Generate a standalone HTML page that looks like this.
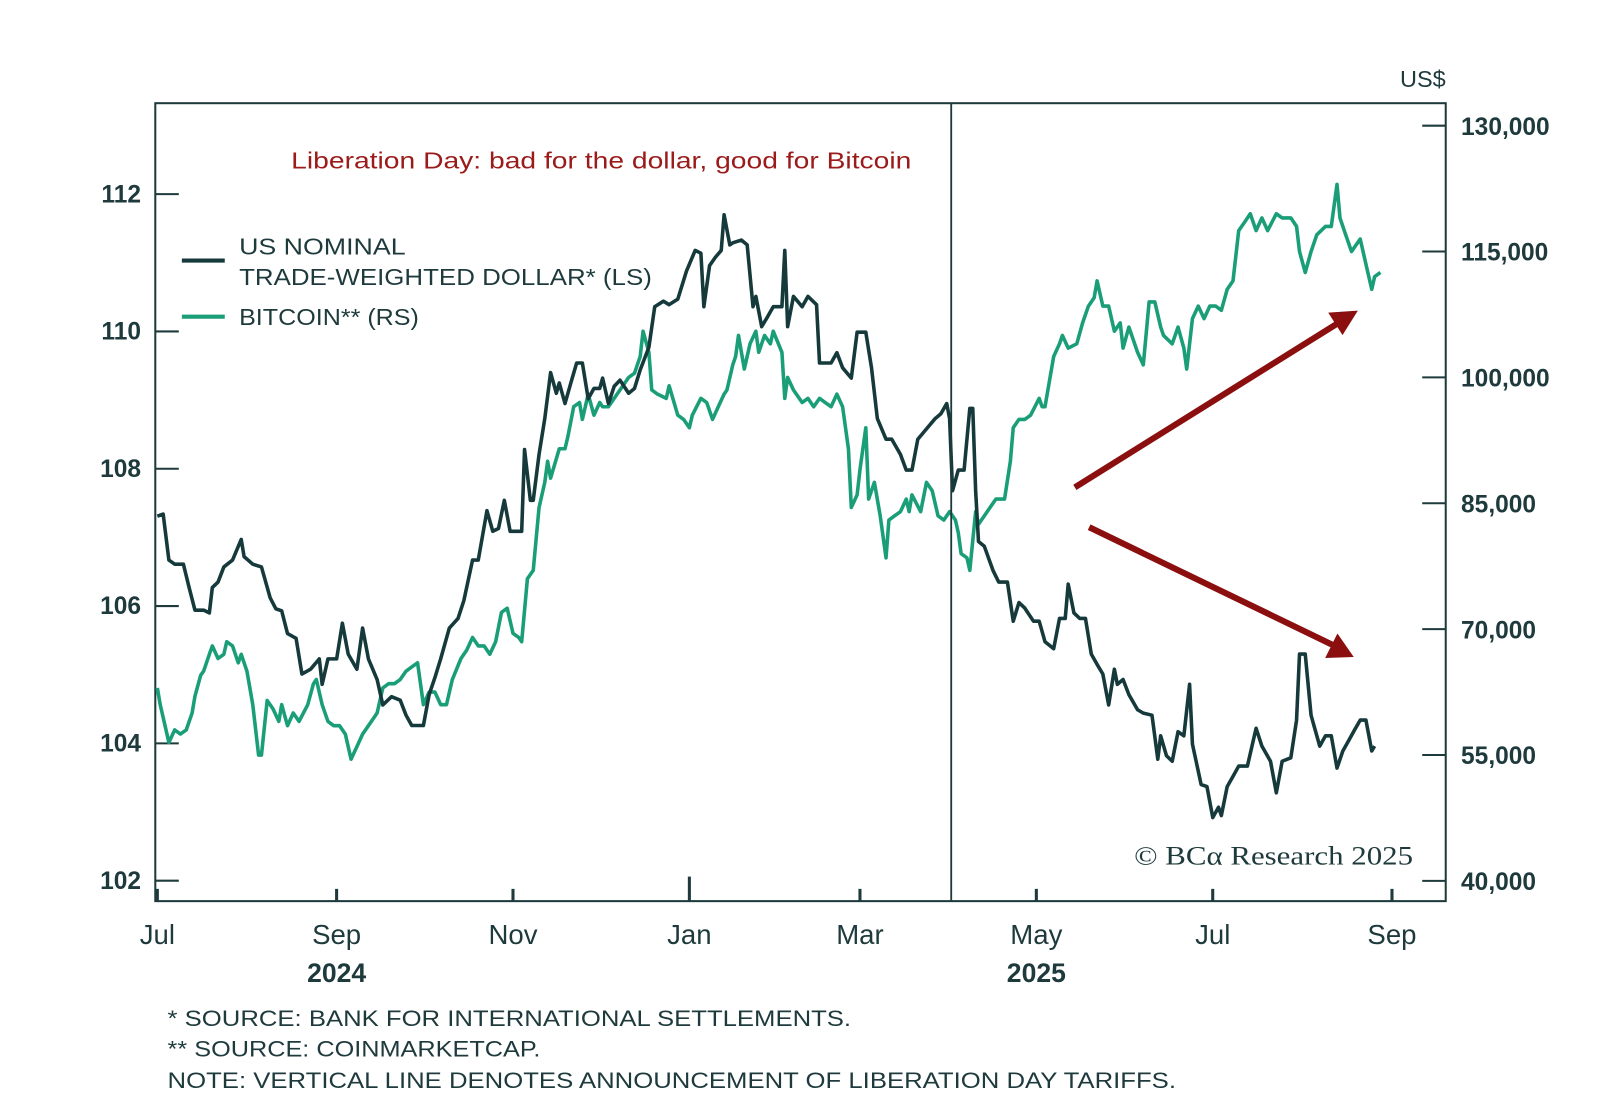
<!DOCTYPE html>
<html><head><meta charset="utf-8"><style>
html,body{margin:0;padding:0;background:#fff}
svg{display:block}
text{font-family:"Liberation Sans",sans-serif}
</style></head><body>
<svg id="chart" width="1600" height="1107" viewBox="0 0 1566 1083.5" preserveAspectRatio="none" xmlns="http://www.w3.org/2000/svg">
<rect x="0" y="0" width="1566" height="1084" fill="#fff"/>
<text x="285" y="165" font-size="23" fill="#9b1b1b" textLength="607" lengthAdjust="spacingAndGlyphs">Liberation Day: bad for the dollar, good for Bitcoin</text>
<text x="1415" y="85" text-anchor="end" font-size="23" fill="#1e3a3c">US$</text>
<g id="axes"></g>
<g id="series"></g>
<line x1="931" y1="101" x2="931" y2="882" stroke="#1e3a3c" stroke-width="1.8"/>
<g>
<line x1="178" y1="255" x2="220" y2="255" stroke="#163a3c" stroke-width="4"/>
<text x="234" y="249" font-size="23" fill="#1e3a3c" textLength="163" lengthAdjust="spacingAndGlyphs">US NOMINAL</text>
<text x="234" y="279" font-size="23" fill="#1e3a3c" textLength="404" lengthAdjust="spacingAndGlyphs">TRADE-WEIGHTED DOLLAR* (LS)</text>
<line x1="178" y1="310" x2="220" y2="310" stroke="#1a9e78" stroke-width="4"/>
<text x="234" y="318" font-size="23" fill="#1e3a3c" textLength="176" lengthAdjust="spacingAndGlyphs">BITCOIN** (RS)</text>
</g>
<g stroke="#8b0f0f" fill="#8b0f0f">
<line x1="1052" y1="477" x2="1310" y2="316" stroke-width="6"/>
<polygon points="1329,304 1300,306 1314,328" stroke="none"/>
<line x1="1066" y1="516" x2="1306" y2="632" stroke-width="6"/>
<polygon points="1325,643 1309,620 1297,644" stroke="none"/>
</g>
<text x="1110" y="846" font-size="26" fill="#1e3a3c" style="font-family:'Liberation Serif',serif" textLength="273" lengthAdjust="spacingAndGlyphs">© BCα Research 2025</text>
<g font-size="22" fill="#1e3a3c">
<text x="164" y="1004" textLength="669" lengthAdjust="spacingAndGlyphs">* SOURCE: BANK FOR INTERNATIONAL SETTLEMENTS.</text>
<text x="164" y="1034" textLength="365" lengthAdjust="spacingAndGlyphs">** SOURCE: COINMARKETCAP.</text>
<text x="164" y="1065" textLength="987" lengthAdjust="spacingAndGlyphs">NOTE: VERTICAL LINE DENOTES ANNOUNCEMENT OF LIBERATION DAY TARIFFS.</text>
</g>
</svg>
<script>
const leftTicks=[102,104,106,108,110,112];
const rightTicks=[40000,55000,70000,85000,100000,115000,130000];
const rightTickLabels=["40,000","55,000","70,000","85,000","100,000","115,000","130,000"];
const monthDays=[0,62,123,184,243,304,365,427];
const monthLabels=["Jul","Sep","Nov","Jan","Mar","May","Jul","Sep"];
const yearLabels=["2024","2025"];
const yearDays=[62,304];
const dollarDays=[0,2,4,6,9,11,13,16,18,19,21,23,26,29,30,33,36,39,41,43,45,48,50,53,56,57,59,62,64,66,69,71,73,76,78,81,84,86,88,92,94,96,98,101,104,106,109,111,114,116,118,120,122,126,127,129,130,132,134,136,138,139,141,143,145,147,149,151,153,154,156,158,160,163,165,167,170,172,175,177,180,183,186,188,189,191,193,195,196,198,199,202,204,206,207,209,211,213,216,217,218,220,223,225,228,229,233,235,237,240,242,245,247,249,252,254,257,259,261,263,266,269,271,273,274,275,277,279,281,282,283,284,286,289,291,294,296,298,300,303,305,307,310,312,314,315,317,319,321,323,325,327,329,331,332,334,336,339,341,344,346,347,349,351,353,355,357,358,361,363,365,367,368,370,372,374,377,380,382,385,387,389,392,394,395,397,399,400,402,404,406,408,410,412,414,416,418,420,421];
const dollarVals=[107.31,107.34,106.67,106.61,106.61,106.27,105.94,105.94,105.90,106.27,106.35,106.57,106.67,106.97,106.72,106.61,106.57,106.12,105.96,105.93,105.60,105.53,105.01,105.08,105.23,104.86,105.23,105.23,105.75,105.30,105.08,105.68,105.23,104.93,104.56,104.68,104.63,104.41,104.26,104.26,104.71,104.96,105.23,105.68,105.82,106.08,106.67,106.67,107.39,107.09,107.13,107.54,107.09,107.09,108.28,107.54,107.54,108.21,108.73,109.40,109.10,109.25,108.95,109.25,109.54,109.54,109.02,109.17,109.17,109.32,108.95,109.20,109.29,109.10,109.17,109.44,109.77,110.36,110.44,110.39,110.47,110.88,111.18,111.14,110.36,110.96,111.08,111.18,111.70,111.26,111.29,111.33,111.26,110.36,110.51,110.07,110.21,110.36,110.36,111.18,110.07,110.51,110.36,110.51,110.39,109.54,109.54,109.69,109.47,109.32,109.99,109.99,109.47,108.73,108.43,108.43,108.21,107.98,107.98,108.43,108.58,108.73,108.80,108.95,108.73,107.68,107.98,107.98,108.88,108.88,107.68,106.94,106.87,106.52,106.35,106.35,105.78,106.05,105.97,105.78,105.78,105.48,105.38,105.82,105.82,106.32,105.90,105.82,105.82,105.30,105.15,105.01,104.56,105.08,104.86,104.93,104.71,104.49,104.44,104.41,103.77,104.11,103.82,103.74,104.17,104.11,104.86,103.99,103.40,103.37,102.92,103.07,102.95,103.37,103.52,103.67,103.67,104.22,103.96,103.74,103.28,103.74,103.79,104.34,105.30,105.30,104.41,104.26,103.96,104.11,104.11,103.64,103.89,104.04,104.19,104.34,104.34,103.89,103.96];
const btcDays=[0,1,4,6,8,10,12,13,15,16,18,19,21,23,24,26,28,29,31,33,35,36,38,40,42,43,45,47,49,52,54,55,57,59,61,63,65,67,69,71,73,76,78,80,82,84,86,88,90,92,94,96,98,100,102,105,107,109,111,113,115,117,119,121,123,125,126,128,130,132,134,135,136,139,141,142,144,146,147,149,151,153,154,156,158,160,163,165,167,168,170,171,173,176,177,180,182,184,185,188,190,192,194,196,197,199,200,201,203,205,207,208,210,212,213,216,217,218,220,223,225,227,229,231,233,235,237,239,240,242,243,245,246,248,250,252,253,255,257,259,260,261,264,266,268,270,272,274,276,277,278,280,281,283,284,286,288,290,293,295,296,298,300,302,305,306,307,310,312,313,315,318,320,322,324,325,327,329,331,333,334,336,339,341,343,345,347,348,351,353,355,356,358,360,362,364,366,368,370,372,374,376,378,380,382,384,387,389,392,394,395,397,399,401,404,406,408,409,411,413,416,418,420,421,423];
const btcVals=[63000,61000,56500,58000,57500,58000,60000,62000,64500,65000,67000,68000,66500,67000,68500,68000,66000,67000,65000,61000,55000,55000,61500,60500,59000,61000,58500,60000,59000,61000,63500,64000,61000,59000,58500,58500,57500,54500,56000,57500,58500,60000,63000,63500,63500,64000,65000,65500,66000,61000,62500,62500,61000,61000,64000,66500,67500,69000,68000,68000,67000,68500,72000,72500,69500,69000,68500,76000,77000,84500,87500,90000,88000,91500,91500,93000,96500,97000,95000,98000,95500,97000,96500,96500,97500,98500,100000,100500,102500,105500,103000,98500,98000,97500,99000,95500,95000,94000,95500,97500,97000,95000,96500,98000,98500,101500,102500,105000,101000,104000,105500,103000,105000,104000,105500,103000,97500,100000,98500,97000,97500,96500,97500,97000,96500,98000,96500,91500,84500,86000,89000,94000,85500,87500,83500,78500,83000,83500,84000,85500,84000,86000,84000,87500,86500,83500,83000,84000,83000,81500,79000,78500,77000,84000,82500,83500,84500,85500,85500,90000,94000,95000,95000,95500,97500,96500,96500,102500,104000,105000,103500,104000,106500,108500,109500,111500,108500,108500,105500,106500,103500,106000,103000,101500,109000,109000,106000,105000,104000,106000,103500,101000,107000,108500,107000,108500,108500,108000,110500,111500,117500,118500,119500,117500,119000,117500,119500,119000,119000,118000,115000,112500,115000,117000,118000,118000,123000,119000,117000,115000,116500,113500,110500,112000,112500];

const NS="http://www.w3.org/2000/svg";
const L=152,T=101,R=1415,B=882;
function xDay(d){return 154+2.83*d;}
function yLeft(v){return 190+(112-v)*67.2;}
function yRight(v){return 123+(130000-v)/15000*123.2;}
function mk(tag,attrs,parent){const e=document.createElementNS(NS,tag);for(const k in attrs)e.setAttribute(k,attrs[k]);parent.appendChild(e);return e;}
const axes=document.getElementById('axes');
const series=document.getElementById('series');
const frame=mk('rect',{x:L,y:T,width:R-L,height:B-T,fill:'none',stroke:'#1e3a3c','stroke-width':2},axes);


leftTicks.forEach(v=>{
  const y=yLeft(v);
  const t=mk('line',{x1:L,x2:L+23,y1:y,y2:y,stroke:'#1e3a3c','stroke-width':2},axes);
  
  
  const tx=mk('text',{x:138,y:y+8,'text-anchor':'end','font-size':24,'font-weight':'bold',fill:'#1e3a3c'},axes);
  tx.textContent=String(v);
  
  
});
rightTicks.forEach((v,i)=>{
  const y=yRight(v);
  const t=mk('line',{x1:R-23,x2:R,y1:y,y2:y,stroke:'#1e3a3c','stroke-width':2},axes);
  
  
  const tx=mk('text',{x:1430,y:y+9,'text-anchor':'start','font-size':24,'font-weight':'bold',fill:'#1e3a3c'},axes);
  tx.textContent=rightTickLabels[i];
  
  
});
monthDays.forEach((d,i)=>{
  const x=xDay(d);
  const t=mk('line',{x1:x,x2:x,y1:i===3?858:870,y2:B,stroke:'#1e3a3c','stroke-width':3},axes);
  
  
  const tx=mk('text',{x:x,y:924,'text-anchor':'middle','font-size':27,fill:'#1e3a3c'},axes);
  tx.textContent=monthLabels[i];
  
  
});
yearDays.forEach((d,i)=>{
  const tx=mk('text',{x:xDay(d),y:961,'text-anchor':'middle','font-size':26,'font-weight':'bold',fill:'#1e3a3c'},axes);
  tx.textContent=yearLabels[i];
  
  
});
function pathFor(days,vals,yf){
  const n=Math.min(days.length,vals.length);let s='';
  for(let i=0;i<n;i++){s+=(i?'L':'M')+xDay(days[i]).toFixed(1)+','+yf(vals[i]).toFixed(1);}
  return s;
}
const btc=mk('path',{d:pathFor(btcDays,btcVals,yRight),fill:'none',stroke:'#1a9e78','stroke-width':3.5,'stroke-linejoin':'round'},series);


const usd=mk('path',{d:pathFor(dollarDays,dollarVals,yLeft),fill:'none',stroke:'#163a3c','stroke-width':3.5,'stroke-linejoin':'round'},series);


</script>
</body></html>
